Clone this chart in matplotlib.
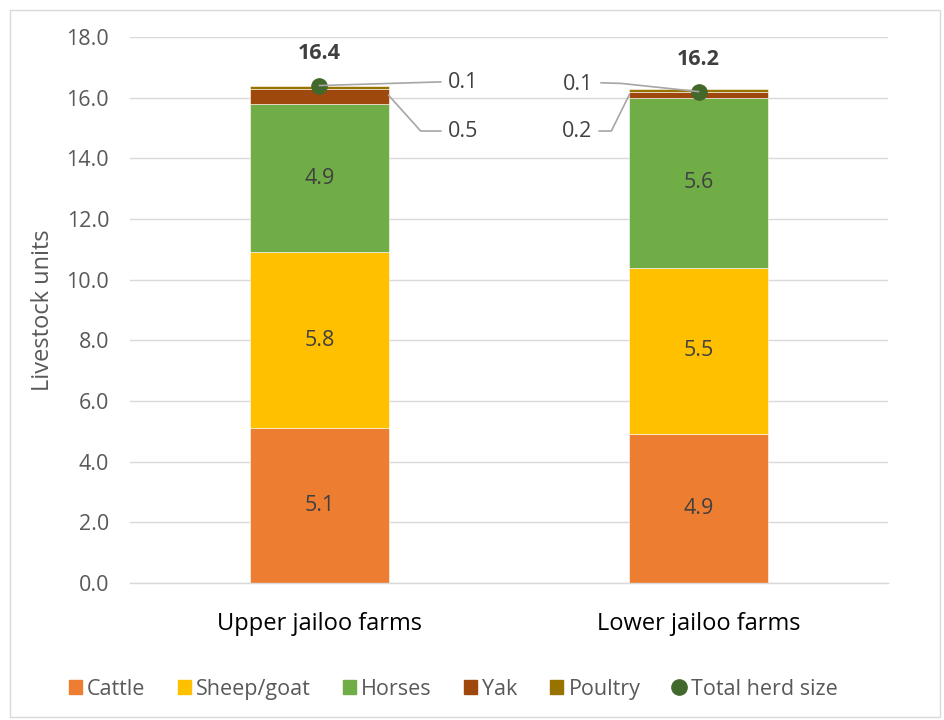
import matplotlib
matplotlib.use("Agg")
import matplotlib.pyplot as plt
from matplotlib.patches import Rectangle
from matplotlib.lines import Line2D
import numpy as np

plt.rcParams['font.family'] = ['Open Sans', 'DejaVu Sans']

farms = ["Upper jailoo farms", "Lower jailoo farms"]
cattle = [5.1, 4.9]
sheep_goat = [5.8, 5.5]
horses = [4.9, 5.6]
yak = [0.5, 0.2]
poultry = [0.1, 0.1]
total_herd = [16.4, 16.2]

series = [
    ("Cattle", cattle, "#ED7D31"),
    ("Sheep/goat", sheep_goat, "#FFC000"),
    ("Horses", horses, "#70AD47"),
    ("Yak", yak, "#9E480E"),
    ("Poultry", poultry, "#997300"),
]

text_col = "#595959"
label_col = "#404040"
fs = 15.5

fig = plt.figure(figsize=(9.44, 7.2), dpi=100)
fig.patches.append(Rectangle((0.011, 0.004), 0.985, 0.982, transform=fig.transFigure,
                             fill=False, edgecolor="#d9d9d9", linewidth=1))
ax = fig.add_axes([0.1377, 0.1903, 0.8030, 0.7583])

x = np.arange(len(farms))
width = 0.365
bottom = np.zeros(len(farms))
for name, vals, col in series:
    ax.bar(x, vals, width, bottom=bottom, color=col, edgecolor="white",
           linewidth=0.4, label=name, zorder=2)
    bottom += np.array(vals)

# value labels inside the three large segments
base = np.zeros(len(farms))
for name, vals, col in series[:3]:
    for i, v in enumerate(vals):
        ax.text(x[i], base[i] + v / 2, f"{v:.1f}", ha="center", va="center",
                fontsize=fs, color=label_col, zorder=4)
    base += np.array(vals)

# total herd size markers and bold labels
ax.plot(x, total_herd, "o", color="#43682B", markersize=11, zorder=5,
        label="Total herd size", linestyle="none")
for i, t in enumerate(total_herd):
    ax.annotate(f"{t:.1f}", (x[i], t), xytext=(0, 23), textcoords="offset points",
                ha="center", va="center", fontsize=fs, fontweight="bold",
                color=label_col)

# leader lines for the thin segments
lc = "#a6a6a6"
half = width / 2
top_h = [cattle[i] + sheep_goat[i] + horses[i] for i in range(2)]
# upper farms: poultry and yak labels to the right
ax.plot([x[0], x[0] + 0.32], [total_herd[0], 16.52], color=lc, lw=1.2, zorder=6)
ax.text(x[0] + 0.34, 16.49, f"{poultry[0]:.1f}", ha="left", va="center",
        fontsize=fs, color=label_col)
ax.plot([x[0] + half, x[0] + 0.267, x[0] + 0.32], [top_h[0] + yak[0] * 0.55, 14.9, 14.9],
        color=lc, lw=1.2, zorder=6)
ax.text(x[0] + 0.34, 14.9, f"{yak[0]:.1f}", ha="left", va="center",
        fontsize=fs, color=label_col)
# lower farms: poultry and yak labels to the left
ax.plot([x[1] - 0.257, x[1] - 0.204, x[1]], [16.49, 16.47, total_herd[1]],
        color=lc, lw=1.2, zorder=6)
ax.text(x[1] - 0.278, 16.42, f"{poultry[1]:.1f}", ha="right", va="center",
        fontsize=fs, color=label_col)
ax.plot([x[1] - 0.262, x[1] - 0.23, x[1] - half], [14.9, 14.9, top_h[1] + yak[1] * 0.5],
        color=lc, lw=1.2, zorder=6)
ax.text(x[1] - 0.28, 14.87, f"{yak[1]:.1f}", ha="right", va="center",
        fontsize=fs, color=label_col)

ax.set_xlim(-0.5, 1.5)
ax.set_ylim(0, 18)
ax.set_yticks(np.arange(0, 18.1, 2))
ax.set_yticklabels([f"{v:.1f}" for v in np.arange(0, 18.1, 2)])
ax.set_xticks(x)
ax.set_xticklabels(farms)
ax.tick_params(axis="y", length=0, labelsize=fs, labelcolor=text_col, pad=15)
ax.tick_params(axis="x", length=0, labelsize=17, labelcolor="black", pad=21)
ax.grid(axis="y", color="#d9d9d9", linewidth=1, zorder=0)
ax.set_axisbelow(True)
for s in ["left", "right", "top"]:
    ax.spines[s].set_visible(False)
ax.spines["bottom"].set_color("#d9d9d9")
ax.spines["bottom"].set_linewidth(1)
ax.set_ylabel("Livestock units", fontsize=17, color=text_col, labelpad=8)

handles = [Rectangle((0, 0), 1, 1, color=c) for _, _, c in series]
handles.append(Line2D([], [], marker="o", color="#43682B", linestyle="none", markersize=11))
labels = [n for n, _, _ in series] + ["Total herd size"]
fig.legend(handles, labels, loc="center", bbox_to_anchor=(0.48, 0.043), ncol=6,
           frameon=False, fontsize=fs, handlelength=0.6, handleheight=0.6,
           handletextpad=0.25, columnspacing=1.5, labelcolor=text_col)

fig.savefig("out.png", dpi=100)
